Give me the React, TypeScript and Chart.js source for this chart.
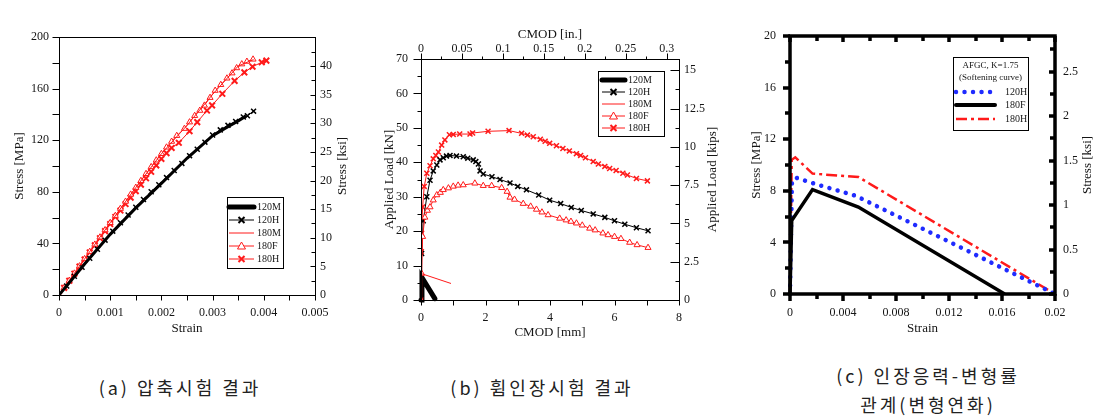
import React, { useEffect, useRef } from 'react';
import { Chart, registerables } from 'chart.js';
Chart.register(...registerables);

// ---------- (a) compression test ----------
const aStrain120M = [0, 0.0002, 0.0005, 0.001, 0.0015, 0.002, 0.0025, 0.003, 0.0033, 0.0035, 0.0036, 0.00365];
const aStress120M = [0, 9.5, 24, 47, 67.5, 86.5, 106, 123.5, 130.5, 135, 137.5, 138.5];
const aStrain120H = [0, 0.00015, 0.0003, 0.00045, 0.0006, 0.00075, 0.0009, 0.00105, 0.0012, 0.00135, 0.0015, 0.00165, 0.0018, 0.00195, 0.0021, 0.00225, 0.0024, 0.00255, 0.0027, 0.00285, 0.003, 0.00315, 0.0033, 0.00345, 0.0036, 0.00368, 0.0038];
const aStress120H = [0, 7, 14.5, 21.5, 28.5, 35.5, 42.5, 49.5, 56, 62, 68, 74, 80, 85.5, 91, 96.5, 102, 108, 113, 118.5, 124, 128, 131.5, 134.5, 138, 139, 142.5];
const aStrain180M = [0, 0.0005, 0.001, 0.0015, 0.002, 0.0025, 0.003, 0.0035, 0.0038];
const aStress180M = [0, 28, 56, 83.3, 109.5, 131.5, 155.5, 177.5, 182.5];
const aStrain180F = [0, 0.0001, 0.0002, 0.0003, 0.0004, 0.0005, 0.0006, 0.0007, 0.0008, 0.0009, 0.001, 0.0011, 0.0012, 0.0013, 0.0014, 0.0015, 0.0016, 0.0017, 0.0018, 0.0019, 0.002, 0.0021, 0.0022, 0.0023, 0.00245, 0.00255, 0.00265, 0.00275, 0.00284, 0.00295, 0.00305, 0.00316, 0.00328, 0.00338, 0.00347, 0.00357, 0.00367, 0.00379];
const aStress180F = [0, 5.6, 11.2, 16.8, 22.4, 28, 33.6, 39.2, 44.8, 50.4, 56, 61.5, 67, 72.5, 78, 83.3, 88.6, 94, 99.3, 104.5, 109.5, 114.5, 119, 123.5, 129, 134, 139, 143, 147, 153, 158.5, 163, 168, 172, 176, 179, 181, 182.7];
const aStrain180H = [0, 0.0001, 0.0002, 0.0003, 0.0004, 0.0005, 0.0006, 0.0007, 0.0008, 0.0009, 0.001, 0.0011, 0.0012, 0.0013, 0.0014, 0.0015, 0.0016, 0.0017, 0.0018, 0.0019, 0.002, 0.0021, 0.0022, 0.00234, 0.00255, 0.0027, 0.00289, 0.00299, 0.00319, 0.00343, 0.00362, 0.00378, 0.00396, 0.00405];
const aStress180H = [0, 5.5, 11, 16.5, 22, 27.5, 33, 38.5, 44, 49.5, 55, 60.5, 65.5, 70.5, 75.5, 80.5, 85.5, 90.5, 95.5, 100.5, 105.5, 110, 114, 118, 127, 134, 143, 147, 156, 166, 172.6, 177, 180.4, 181.7];

// ---------- (b) flexural tension test ----------
const bCmod120M = [0, 0.03, 0.43];
const bLoad120M = [0, 6.5, 0.4];
const bCmod120H = [0, 0.02, 0.07, 0.18, 0.28, 0.38, 0.49, 0.59, 0.69, 0.79, 0.9, 1.1, 1.31, 1.45, 1.62, 1.7, 1.78, 1.83, 1.93, 2.2, 2.45, 2.76, 3.0, 3.27, 3.65, 3.99, 4.33, 4.66, 4.97, 5.34, 5.7, 6.0, 6.32, 6.68, 7.04];
const bLoad120H = [0, 13.5, 23, 30, 34.8, 37.5, 39.2, 40.7, 41.3, 41.8, 42, 41.8, 41.6, 41.2, 40.7, 40.2, 39.5, 37.5, 36.6, 35.8, 35, 34, 33, 32, 30.5, 29, 28, 26.9, 26, 25, 24, 23, 22, 21, 20.1];
const bCmod180M = [0, 0.93];
const bLoad180M = [7.7, 4.8];
const bCmod180F = [0, 0.02, 0.05, 0.12, 0.2, 0.28, 0.38, 0.49, 0.6, 0.69, 0.85, 1.0, 1.15, 1.31, 1.67, 1.93, 2.19, 2.5, 2.67, 2.76, 2.9, 3.17, 3.4, 3.58, 3.75, 3.94, 4.3, 4.5, 4.65, 4.82, 5.0, 5.23, 5.4, 5.64, 5.8, 6.0, 6.2, 6.47, 6.7, 7.04];
const bLoad180F = [0, 7.7, 18.4, 24, 26, 27, 29, 30.5, 31.2, 32, 32.5, 33, 33.3, 33.4, 33.9, 33.2, 33.2, 32.6, 31.5, 29.8, 29.2, 28, 27.2, 26.3, 25.5, 24.7, 23.7, 23.2, 22.8, 22.3, 21.7, 20.8, 20.3, 19.4, 18.9, 18.4, 17.8, 16.7, 16.0, 15.2];
const bCmod180H = [0, 0.01, 0.02, 0.05, 0.1, 0.18, 0.28, 0.38, 0.46, 0.54, 0.64, 0.74, 0.88, 1.0, 1.2, 1.52, 1.6, 2.08, 2.73, 3.12, 3.3, 3.48, 3.7, 3.85, 3.99, 4.2, 4.4, 4.6, 4.82, 4.95, 5.1, 5.34, 5.5, 5.7, 5.85, 6.05, 6.26, 6.4, 6.68, 7.02];
const bLoad180H = [0, 14, 19.4, 27, 33, 36.8, 39, 41, 42, 43, 45, 46.5, 48, 48.1, 48.2, 48.2, 48.5, 49, 49.2, 48.4, 47.9, 47.4, 46.7, 46.1, 45.5, 44.8, 44, 43.3, 42.5, 42, 41.3, 40.2, 39.5, 38.8, 38.2, 37.6, 36.8, 36.3, 35.3, 34.6];

// ---------- (c) tensile stress-strain (softening) ----------
const cStrain120H = [0, 0.00015, 0.0005, 0.002, 0.005, 0.02];
const cStress120H = [0, 8.8, 9.0, 8.5, 7.6, 0];
const cStrain180F = [0, 0.00013, 0.0017, 0.00516, 0.0162];
const cStress180F = [0, 5.7, 8.1, 6.74, 0];
const cStrain180H = [0, 0.00013, 0.0004, 0.0017, 0.00516, 0.02];
const cStress180H = [0, 10.4, 10.6, 9.33, 9.07, 0];

// axis ranges / labels
const MPA_PER_KSI = 6.895;
const KN_PER_KIP = 4.448;
const MM_PER_IN = 25.4;
const legendLabels = ['120M', '120H', '180M', '180F', '180H'];
const legendLabelsC = ['120H', '180F', '180H'];
const legendTitleC = ['AFGC, K=1.75', '(Softening curve)'];
const captions = ['(a) 압축시험 결과', '(b) 휨인장시험 결과', '(c) 인장응력-변형률', '관계(변형연화)'];

const SERIF = "'Liberation Serif', 'Times New Roman', serif";
const TXT = '#151515';
const RED = '#ff1a1a';
const pts = (xs: number[], ys: number[]) => xs.map((x, i) => ({ x, y: ys[i] }));

function drawMarker(ctx: CanvasRenderingContext2D, kind: string, x: number, y: number, color: string) {
  ctx.save();
  ctx.setLineDash([]);
  ctx.strokeStyle = color;
  if (kind === 'cross') {
    ctx.lineWidth = 2;
    const r = 3;
    ctx.beginPath();
    ctx.moveTo(x - r, y - r); ctx.lineTo(x + r, y + r);
    ctx.moveTo(x + r, y - r); ctx.lineTo(x - r, y + r);
    ctx.stroke();
  } else if (kind === 'tri') {
    ctx.lineWidth = 1;
    ctx.fillStyle = '#fff';
    ctx.beginPath();
    ctx.moveTo(x, y - 4); ctx.lineTo(x + 4, y + 3); ctx.lineTo(x - 4, y + 3); ctx.closePath();
    ctx.fill(); ctx.stroke();
  }
  ctx.restore();
}

const frameTicks = {
  id: 'frameTicks',
  afterDraw(chart: any, _a: any, o: any) {
    const { ctx, chartArea: ca } = chart;
    ctx.save();
    ctx.strokeStyle = '#000';
    const fw = o.frameWidth || 1;
    ctx.lineWidth = fw;
    const off = fw % 2 === 1 ? 0.5 : 0;
    const L = Math.round(ca.left) + off, R = Math.round(ca.right) + off, T = Math.round(ca.top) + off, B = Math.round(ca.bottom) + off;
    ctx.strokeRect(L, T, R - L, B - T);
    for (const t of o.ticks || []) {
      const sc = chart.scales[t.scale];
      ctx.lineWidth = t.width;
      ctx.lineCap = t.cap || 'butt';
      const o2 = t.width % 2 === 1 ? 0.5 : 0;
      const n = Math.floor((sc.max - sc.min) / t.step + 1e-6);
      const dir = t.inward ? -1 : 1;
      for (let i = 0; i <= n; i++) {
        const v = sc.min + i * t.step;
        const len = i % t.majorEvery === 0 ? t.majorLen : t.minorLen;
        const p = Math.round(sc.getPixelForValue(v)) + o2;
        ctx.beginPath();
        if (t.side === 'left') { ctx.moveTo(L, p); ctx.lineTo(L - dir * len, p); }
        else if (t.side === 'right') { ctx.moveTo(R, p); ctx.lineTo(R + dir * len, p); }
        else if (t.side === 'top') { ctx.moveTo(p, T); ctx.lineTo(p, T - dir * len); }
        else { ctx.moveTo(p, B); ctx.lineTo(p, B + dir * len); }
        ctx.stroke();
      }
    }
    if (o.rightTitle) {
      ctx.fillStyle = TXT;
      ctx.font = `13px ${SERIF}`;
      ctx.textAlign = 'center';
      ctx.textBaseline = 'middle';
      ctx.translate(o.rightTitle.x, (ca.top + ca.bottom) / 2);
      ctx.rotate(-Math.PI / 2);
      ctx.fillText(o.rightTitle.text, 0, 0);
    }
    ctx.restore();
  },
};

const boxLegend = {
  id: 'boxLegend',
  afterDraw(chart: any, _a: any, o: any) {
    if (!o || !o.items) return;
    const ctx: CanvasRenderingContext2D = chart.ctx;
    ctx.save();
    ctx.fillStyle = '#fff';
    ctx.fillRect(o.x, o.y, o.w, o.h);
    ctx.strokeStyle = '#000';
    ctx.lineWidth = 1;
    ctx.strokeRect(o.x + 0.5, o.y + 0.5, o.w, o.h);
    ctx.textBaseline = 'middle';
    for (const t of o.title || []) {
      ctx.font = `${o.titleSize}px ${SERIF}`;
      ctx.fillStyle = TXT;
      ctx.textAlign = 'center';
      ctx.fillText(t.text, o.x + o.w / 2, t.y);
    }
    for (const it of o.items) {
      ctx.strokeStyle = it.color;
      ctx.lineWidth = it.width;
      ctx.lineCap = it.cap || 'butt';
      ctx.setLineDash(it.dash || []);
      ctx.beginPath();
      ctx.moveTo(o.lineX0, it.y);
      ctx.lineTo(o.lineX1, it.y);
      ctx.stroke();
      ctx.setLineDash([]);
      if (it.marker) drawMarker(ctx, it.marker, (o.lineX0 + o.lineX1) / 2, it.y, it.color);
      ctx.font = `${o.fontSize}px ${SERIF}`;
      ctx.fillStyle = TXT;
      ctx.textAlign = 'left';
      ctx.fillText(it.label, o.textX, it.y);
    }
    ctx.restore();
  },
};

const tickFont = { family: SERIF, size: 12 };
const titleFont = { family: SERIF, size: 13 };
const fmt = (step: number) => (v: number) => {
  const k = Math.round(v / step);
  if (Math.abs(v - k * step) > step * 1e-6) return '';
  return String(parseFloat((k * step).toFixed(6)));
};
const fmtMax = (step: number, maxLabel: number) => (v: number) => (v > maxLabel + 1e-9 ? '' : fmt(step)(v));

function axis(o: any) {
  const { position, min, max, step, size, pad, title, titlePad, label } = o;
  const horiz = position === 'top' || position === 'bottom';
  return {
    type: 'linear',
    position,
    min,
    max,
    afterFit: (s: any) => { if (horiz) s.height = size; else s.width = size; },
    grid: { display: false, drawTicks: false },
    border: { display: false },
    ticks: {
      stepSize: step,
      includeBounds: false,
      autoSkip: false,
      maxRotation: 0,
      minRotation: 0,
      padding: pad,
      font: tickFont,
      color: TXT,
      callback: label || fmt(step),
    },
    title: title
      ? { display: true, text: title, font: titleFont, color: TXT, padding: titlePad }
      : { display: false },
  };
}

const baseOpts = (padTop: number) => ({
  responsive: false,
  animation: false,
  devicePixelRatio: 1,
  events: [],
  layout: { padding: { top: padTop, left: 0, right: 0, bottom: 0 } },
});

const H = 345;

function configA() {
  const line = (label: string, xs: number[], ys: number[], extra: any) => ({
    label, data: pts(xs, ys), showLine: true, pointRadius: 0, borderWidth: 1, ...extra,
  });
  return {
    type: 'scatter',
    plugins: [frameTicks, boxLegend],
    data: {
      datasets: [
        line('120M', aStrain120M, aStress120M, { borderColor: '#000', borderWidth: 3 }),
        line('180M', aStrain180M, aStress180M, { borderColor: RED }),
        line('120H', aStrain120H, aStress120H, { borderColor: '#000', pointRadius: 3.5, pointStyle: 'crossRot', pointBorderWidth: 1.5, pointBorderColor: '#000' }),
        line('180F', aStrain180F, aStress180F, { borderColor: RED, pointRadius: 3.5, pointStyle: 'triangle', pointBackgroundColor: '#fff', pointBorderColor: RED, pointBorderWidth: 1 }),
        line('180H', aStrain180H, aStress180H, { borderColor: RED, pointRadius: 4, pointStyle: 'crossRot', pointBorderWidth: 2, pointBorderColor: RED }),
      ],
    },
    options: {
      ...baseOpts(37),
      plugins: {
        legend: { display: false },
        tooltip: { enabled: false },
        frameTicks: {
          frameWidth: 1,
          rightTitle: { text: 'Stress [ksi]', x: 343 },
          ticks: [
            { scale: 'x', side: 'bottom', step: 0.0005, majorEvery: 2, majorLen: 5, minorLen: 5, inward: false, width: 1 },
            { scale: 'y', side: 'left', step: 20, majorEvery: 2, majorLen: 7, minorLen: 7, inward: false, width: 1 },
            { scale: 'y2', side: 'right', step: 2.5, majorEvery: 2, majorLen: 5, minorLen: 4, inward: true, width: 1 },
          ],
        },
        boxLegend: {
          x: 227, y: 197, w: 56, h: 71, fontSize: 10, lineX0: 229, lineX1: 254, textX: 257,
          items: [
            { label: legendLabels[0], y: 207, color: '#000', width: 5, cap: 'round' },
            { label: legendLabels[1], y: 220, color: '#000', width: 1, marker: 'cross' },
            { label: legendLabels[2], y: 233, color: RED, width: 1 },
            { label: legendLabels[3], y: 246, color: RED, width: 1, marker: 'tri' },
            { label: legendLabels[4], y: 259, color: RED, width: 1, marker: 'cross' },
          ],
        },
      },
      scales: {
        x: axis({ position: 'bottom', min: 0, max: 0.005, step: 0.001, size: H - 295, pad: 11, title: 'Strain', titlePad: { top: 0, bottom: 9 } }),
        y: axis({ position: 'left', min: 0, max: 200, step: 40, size: 59, pad: 10, title: 'Stress [MPa]', titlePad: { top: 12, bottom: 0 } }),
        y2: axis({ position: 'right', min: 0, max: 45.07, step: 5, size: 360 - 315, pad: 5, label: fmtMax(5, 40) }),
      },
    },
  };
}

function configB() {
  const line = (label: string, xs: number[], ys: number[], extra: any) => ({
    label, data: pts(xs, ys), showLine: true, pointRadius: 0, borderWidth: 1, ...extra,
  });
  return {
    type: 'scatter',
    plugins: [frameTicks, boxLegend],
    data: {
      datasets: [
        line('180M', bCmod180M, bLoad180M, { borderColor: RED }),
        line('180F', bCmod180F, bLoad180F, { borderColor: RED, pointRadius: 3.5, pointStyle: 'triangle', pointBackgroundColor: '#fff', pointBorderColor: RED, pointBorderWidth: 1 }),
        line('120H', bCmod120H, bLoad120H, { borderColor: '#000', pointRadius: 3.5, pointStyle: 'crossRot', pointBorderWidth: 1.5, pointBorderColor: '#000' }),
        line('180H', bCmod180H, bLoad180H, { borderColor: RED, pointRadius: 3.5, pointStyle: 'crossRot', pointBorderWidth: 1.5, pointBorderColor: RED }),
        line('120M', bCmod120M, bLoad120M, { borderColor: '#000', borderWidth: 5, borderCapStyle: 'round', clip: 4 }),
      ],
    },
    options: {
      ...baseOpts(0),
      plugins: {
        legend: { display: false },
        tooltip: { enabled: false },
        frameTicks: {
          frameWidth: 1,
          rightTitle: { text: 'Applied Load [kips]', x: 343 },
          ticks: [
            { scale: 'x', side: 'bottom', step: 1, majorEvery: 2, majorLen: 5, minorLen: 5, inward: false, width: 1 },
            { scale: 'x2', side: 'top', step: 0.025, majorEvery: 2, majorLen: 6, minorLen: 3, inward: false, width: 1 },
            { scale: 'y', side: 'left', step: 5, majorEvery: 2, majorLen: 8, minorLen: 4, inward: false, width: 1 },
            { scale: 'y2', side: 'right', step: 1.25, majorEvery: 2, majorLen: 9, minorLen: 4, inward: true, width: 1 },
          ],
        },
        boxLegend: {
          x: 228, y: 71, w: 66, h: 65, fontSize: 10, lineX0: 232, lineX1: 255, textX: 258,
          items: [
            { label: legendLabels[0], y: 80, color: '#000', width: 5, cap: 'round' },
            { label: legendLabels[1], y: 92, color: '#000', width: 1, marker: 'cross' },
            { label: legendLabels[2], y: 104, color: RED, width: 1 },
            { label: legendLabels[3], y: 116, color: RED, width: 1, marker: 'tri' },
            { label: legendLabels[4], y: 128, color: RED, width: 1, marker: 'cross' },
          ],
        },
      },
      scales: {
        x: axis({ position: 'bottom', min: 0, max: 8, step: 2, size: H - 300, pad: 11, title: 'CMOD [mm]', titlePad: { top: 0, bottom: 5 } }),
        x2: axis({ position: 'top', min: 0, max: 8 / MM_PER_IN, step: 0.05, size: 59, pad: 3, title: 'CMOD [in.]', titlePad: { top: 27, bottom: 0 } }),
        y: axis({ position: 'left', min: 0, max: 70, step: 10, size: 51, pad: 13, title: 'Applied Load [kN]', titlePad: { top: 12, bottom: 0 } }),
        y2: axis({ position: 'right', min: 0, max: 70 / KN_PER_KIP, step: 2.5, size: 355 - 309, pad: 5 }),
      },
    },
  };
}

function configC() {
  return {
    type: 'scatter',
    plugins: [frameTicks, boxLegend],
    data: {
      datasets: [
        { label: '180F', data: pts(cStrain180F, cStress180F), showLine: true, pointRadius: 0, borderColor: '#000', borderWidth: 3.5, clip: 4 },
        { label: '120H', data: pts(cStrain120H, cStress120H), showLine: true, pointRadius: 0, borderColor: '#1f2bff', borderWidth: 4.5, borderDash: [0.01, 8.5], borderCapStyle: 'round', clip: 4 },
        { label: '180H', data: pts(cStrain180H, cStress180H), showLine: true, pointRadius: 0, borderColor: RED, borderWidth: 2.5, borderDash: [11, 4, 3, 4], clip: 4 },
      ],
    },
    options: {
      ...baseOpts(36),
      plugins: {
        legend: { display: false },
        tooltip: { enabled: false },
        frameTicks: {
          frameWidth: 3.5,
          rightTitle: { text: 'Stress [ksi]', x: 348 },
          ticks: [
            { scale: 'x', side: 'bottom', step: 0.002, majorEvery: 2, majorLen: 7, minorLen: 5, inward: false, width: 3.5 },
            { scale: 'x', side: 'top', step: 0.002, majorEvery: 2, majorLen: 6, minorLen: 5, inward: true, width: 3.5 },
            { scale: 'y', side: 'left', step: 2, majorEvery: 2, majorLen: 7, minorLen: 5, inward: false, width: 3.5 },
            { scale: 'y2', side: 'right', step: 0.25, majorEvery: 2, majorLen: 6, minorLen: 5, inward: true, width: 3.5 },
          ],
        },
        boxLegend: {
          x: 213, y: 57, w: 75, h: 73, fontSize: 10, titleSize: 9, lineX0: 216, lineX1: 255, textX: 265,
          title: [{ text: legendTitleC[0], y: 66 }, { text: legendTitleC[1], y: 78 }],
          items: [
            { label: legendLabelsC[0], y: 92, color: '#1f2bff', width: 4.5, dash: [0.01, 8.5], cap: 'round' },
            { label: legendLabelsC[1], y: 105, color: '#000', width: 4, cap: 'round' },
            { label: legendLabelsC[2], y: 119, color: RED, width: 2.5, dash: [11, 4, 3, 4] },
          ],
        },
      },
      scales: {
        x: axis({ position: 'bottom', min: 0, max: 0.02, step: 0.004, size: H - 294, pad: 12, title: 'Strain', titlePad: { top: 0, bottom: 9 } }),
        y: axis({ position: 'left', min: 0, max: 20, step: 4, size: 50, pad: 14, title: 'Stress [MPa]', titlePad: { top: 9, bottom: 0 } }),
        y2: axis({ position: 'right', min: 0, max: 20 / MPA_PER_KSI, step: 0.5, size: 376 - 315, pad: 8 }),
      },
    },
  };
}

function ChartBox({ make, left, width }: { make: () => any; left: number; width: number }) {
  const ref = useRef<HTMLCanvasElement>(null);
  useEffect(() => {
    const chart = new Chart(ref.current as HTMLCanvasElement, make() as any);
    return () => chart.destroy();
  }, []);
  return (
    <canvas
      ref={ref}
      width={width}
      height={H}
      style={{ position: 'absolute', left, top: 0, width, height: H }}
    />
  );
}

const capStyle: React.CSSProperties = {
  position: 'absolute',
  textAlign: 'center',
  fontFamily: "'Noto Sans CJK KR', sans-serif",
  fontSize: 18,
  letterSpacing: 3,
  color: '#222',
  lineHeight: '29px',
  whiteSpace: 'nowrap',
};

export default function App() {
  return (
    <div style={{ position: 'absolute', left: 0, top: 0, width: 1116, height: 418, background: '#fff', overflow: 'hidden' }}>
      <ChartBox make={configA} left={0} width={360} />
      <ChartBox make={configB} left={370} width={355} />
      <ChartBox make={configC} left={740} width={376} />
      <div style={{ ...capStyle, left: 0, width: 360, top: 373 }}>{captions[0]}</div>
      <div style={{ ...capStyle, left: 370, width: 344, top: 373 }}>{captions[1]}</div>
      <div style={{ ...capStyle, left: 740, width: 376, top: 361 }}>
        {captions[2]}
        <br />
        {captions[3]}
      </div>
    </div>
  );
}
